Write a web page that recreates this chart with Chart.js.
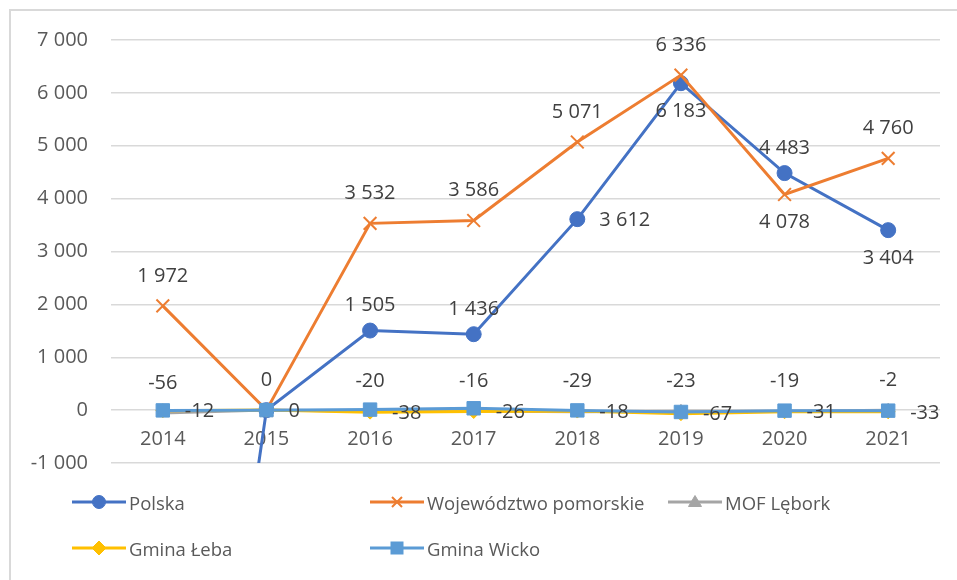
<!DOCTYPE html>
<html lang="pl">
<head>
<meta charset="utf-8">
<title>Saldo migracji</title>
<script src="https://cdn.jsdelivr.net/npm/chart.js@4.4.1/dist/chart.umd.min.js"></script>
<style>
  body { margin: 0; background: #fff; overflow: hidden; font-family: 'Open Sans', sans-serif; }
  #wrap { position: relative; width: 957px; height: 580px; }
  #ramka { position: absolute; left: 9px; top: 9px; width: 1000px; height: 1000px; border: 2px solid #D9D9D9; box-sizing: border-box; }
  canvas { position: absolute; left: 0; top: 0; }
  .leg { position: absolute; display: flex; align-items: center; height: 24px; margin-top: -12px; color: #595959; font-size: 18.5px; white-space: nowrap; }
  .leg svg { margin-right: 3px; }
</style>
</head>
<body>
<div id="wrap">
  <div id="ramka"></div>
  <canvas id="lineChart" width="957" height="580"></canvas>
  <div id="legenda"></div>
</div>
<script>
var lata = ['2014', '2015', '2016', '2017', '2018', '2019', '2020', '2021'];
var polska = [-13500, 0, 1505, 1436, 3612, 6183, 4483, 3404];
var pomorskie = [1972, 0, 3532, 3586, 5071, 6336, 4078, 4760];
var mofLebork = [-56, 0, -20, -16, -29, -23, -19, -2];
var gminaLeba = [-12, 0, -38, -26, -18, -67, -31, -33];
var gminaWicko = [-5, 0, 10, 35, -5, -35, -10, -10];
var osY = [-1000, 0, 1000, 2000, 3000, 4000, 5000, 6000, 7000];

function formatuj(v) {
  var s = String(Math.abs(v)).replace(/\B(?=(\d{3})+(?!\d))/g, ' ');
  return (v < 0 ? '-' : '') + s;
}

// gdzie stoi etykieta danej wartosci (jak w Excelu)
var polozenia = {
  'Polska': [null, null, 'above', 'above', 'right', 'below', 'above', 'below'],
  'Województwo pomorskie': ['above', null, 'above', 'above', 'above', 'above', 'below', 'above'],
  'MOF Lębork': ['above', 'above', 'above', 'above', 'above', 'above', 'above', 'above'],
  'Gmina Łeba': ['right', 'right', 'right', 'right', 'right', 'right', 'right', 'right']
};

var etykiety = {
  id: 'etykiety',
  afterDatasetsDraw: function (chart) {
    var ctx = chart.ctx;
    var yScale = chart.scales.y;
    ctx.save();
    ctx.font = '20px "Open Sans"';
    ctx.fillStyle = '#404040';
    ctx.textBaseline = 'middle';
    chart.data.datasets.forEach(function (ds, i) {
      var poz = polozenia[ds.label];
      if (!poz) return;
      var meta = chart.getDatasetMeta(i);
      var odstep = ds.label === 'Polska' ? 25 : 30;
      meta.data.forEach(function (pt, j) {
        var v = ds.data[j];
        if (!poz[j] || v < yScale.min || v > yScale.max) return;
        var txt = formatuj(v);
        if (poz[j] === 'above') {
          ctx.textAlign = 'center';
          ctx.fillText(txt, pt.x, pt.y - odstep);
        } else if (poz[j] === 'below') {
          ctx.textAlign = 'center';
          ctx.fillText(txt, pt.x, pt.y + 28);
        } else {
          ctx.textAlign = 'left';
          ctx.fillText(txt, pt.x + 22, pt.y + 1);
        }
      });
    });
    ctx.restore();
  }
};

var kontekst = document.getElementById('lineChart');
var wykres = new Chart(kontekst, {
  type: 'line',
  data: {
    labels: lata,
    datasets: [{
      label: 'Polska',
      data: polska,
      borderColor: '#4472C4',
      backgroundColor: '#4472C4',
      pointStyle: 'circle',
      pointRadius: 7.5,
      order: 5
    }, {
      label: 'Województwo pomorskie',
      data: pomorskie,
      borderColor: '#ED7D31',
      backgroundColor: '#ED7D31',
      pointStyle: 'crossRot',
      pointRadius: 9,
      pointBorderWidth: 2,
      order: 4
    }, {
      label: 'MOF Lębork',
      data: mofLebork,
      borderColor: '#A5A5A5',
      backgroundColor: '#A5A5A5',
      pointStyle: 'triangle',
      pointRadius: 7,
      order: 3
    }, {
      label: 'Gmina Łeba',
      data: gminaLeba,
      borderColor: '#FFC000',
      backgroundColor: '#FFC000',
      pointStyle: 'rectRot',
      pointRadius: 7,
      order: 2
    }, {
      label: 'Gmina Wicko',
      data: gminaWicko,
      borderColor: '#5B9BD5',
      backgroundColor: '#5B9BD5',
      pointStyle: 'rect',
      pointRadius: 9.5,
      order: 1
    }]
  },
  options: {
    responsive: false,
    animation: false,
    layout: { padding: { left: 0, top: 40, right: 17, bottom: 117 } },
    elements: {
      line: { borderWidth: 3, tension: 0 },
      point: { borderWidth: 1 }
    },
    scales: {
      x: {
        position: { y: 0 },
        offset: true,
        grid: { display: false, drawTicks: false },
        border: { display: false },
        ticks: { color: '#595959', font: { family: 'Open Sans', size: 20 }, padding: 17, maxRotation: 0 }
      },
      y: {
        min: osY[0],
        max: osY[osY.length - 1],
        afterBuildTicks: function (scale) {
          scale.ticks = osY.map(function (v) { return { value: v }; });
        },
        afterFit: function (scale) { scale.width = 111; },
        grid: { color: '#D9D9D9', lineWidth: 1.5, drawTicks: false },
        border: { display: false },
        ticks: {
          color: '#595959',
          font: { family: 'Open Sans', size: 20 },
          padding: 23,
          callback: function (v) { return formatuj(v); }
        }
      }
    },
    plugins: {
      legend: { display: false },
      tooltip: { enabled: false }
    }
  },
  plugins: [etykiety]
});

// legenda w HTML, ukladana w siatke jak w oryginale
var znaczniki = {
  'circle': '<circle cx="27" cy="10" r="6.5"/>',
  'cross': '<path d="M22 5 L32 15 M32 5 L22 15" stroke-width="2" fill="none"/>',
  'triangle': '<polygon points="27,3.5 33.5,14.5 20.5,14.5"/>',
  'diamond': '<polygon points="27,3 34,10 27,17 20,10"/>',
  'square': '<rect x="21" y="4" width="12" height="12"/>'
};
var legendaPozycje = [
  { txt: 'Polska', kolor: '#4472C4', zn: 'circle', x: 72, y: 502 },
  { txt: 'Województwo pomorskie', kolor: '#ED7D31', zn: 'cross', x: 370, y: 502 },
  { txt: 'MOF Lębork', kolor: '#A5A5A5', zn: 'triangle', x: 668, y: 502 },
  { txt: 'Gmina Łeba', kolor: '#FFC000', zn: 'diamond', x: 72, y: 548 },
  { txt: 'Gmina Wicko', kolor: '#5B9BD5', zn: 'square', x: 370, y: 548 }
];
var legenda = document.getElementById('legenda');
legendaPozycje.forEach(function (p) {
  var d = document.createElement('div');
  d.className = 'leg';
  d.style.left = p.x + 'px';
  d.style.top = p.y + 'px';
  d.innerHTML = '<svg width="54" height="20" fill="' + p.kolor + '" stroke="' + p.kolor + '">' +
    '<line x1="0" y1="10" x2="54" y2="10" stroke-width="3"/>' + znaczniki[p.zn] + '</svg><span>' + p.txt + '</span>';
  legenda.appendChild(d);
});
</script>
</body>
</html>
